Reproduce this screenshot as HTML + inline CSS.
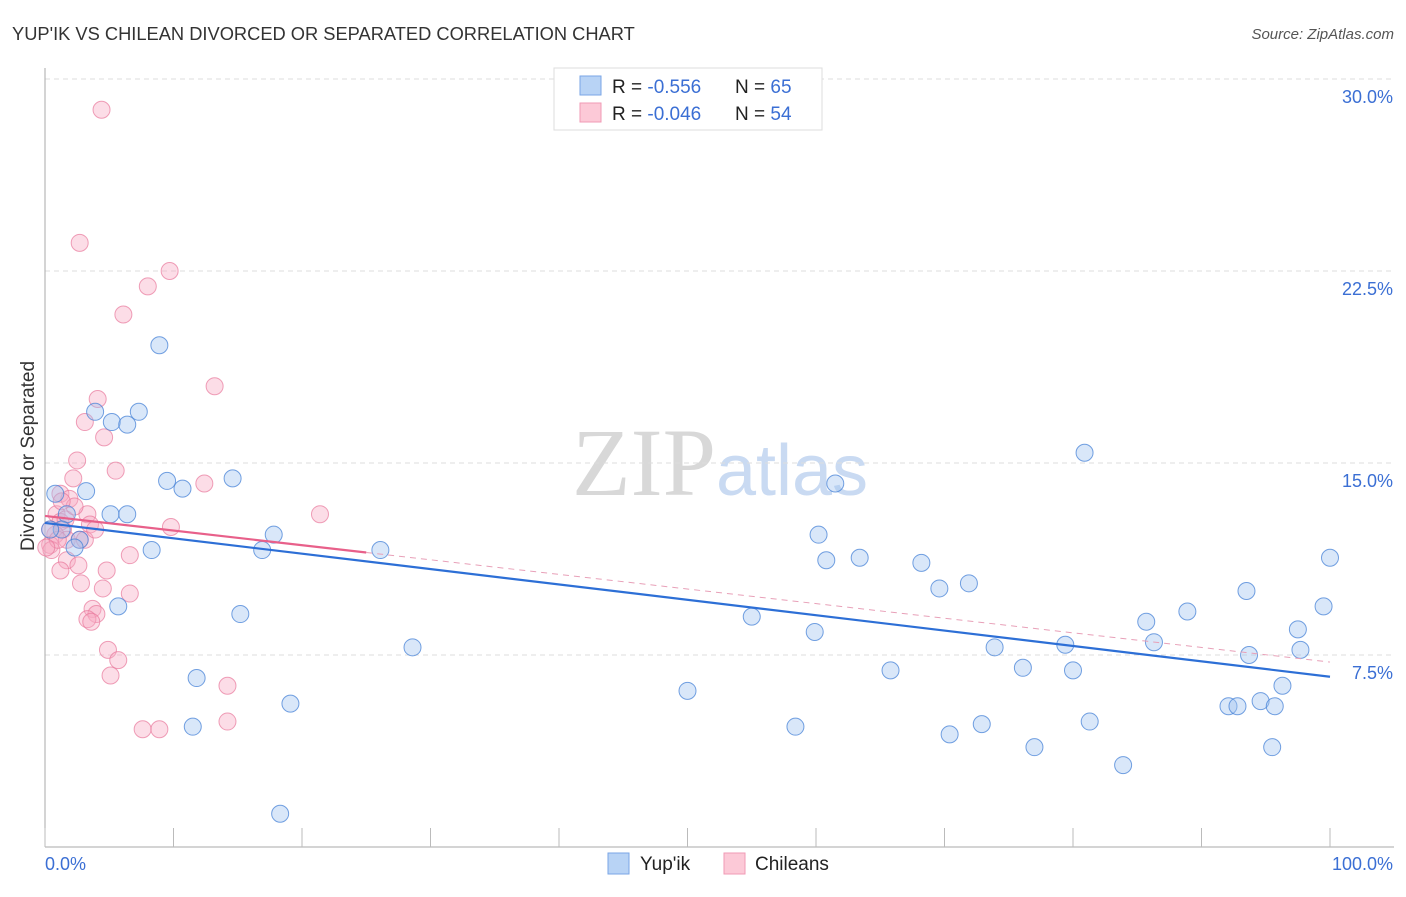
<!DOCTYPE html>
<html><head><meta charset="utf-8"><style>
body{margin:0;background:#fff;font-family:"Liberation Sans",sans-serif;}
svg text{font-family:"Liberation Sans",sans-serif;}
</style></head><body>
<svg id="chart" width="1406" height="892" viewBox="0 0 1406 892">
<text x="12" y="40" font-size="18.3" fill="#333">YUP'IK VS CHILEAN DIVORCED OR SEPARATED CORRELATION CHART</text>
<text x="1394" y="39" font-size="15" fill="#555" font-style="italic" text-anchor="end">Source: ZipAtlas.com</text>
<text x="34" y="456" font-size="19" fill="#333" text-anchor="middle" transform="rotate(-90 34 456)">Divorced or Separated</text>
<text x="720" y="495" font-size="96" fill="#ddd" text-anchor="middle" font-family="Liberation Serif"><tspan fill="#d8d8d8" font-family="Liberation Serif">ZIP</tspan><tspan fill="#c9daf2" font-size="72" font-family="Liberation Sans">atlas</tspan></text>
<g id="grid"></g><g id="axes"></g><g id="pts"></g><g id="lines"></g>
<g>
<rect x="554" y="68" width="268" height="62" fill="#fff" stroke="#ddd"/>
<rect x="580" y="76" width="21" height="19" fill="#b8d3f5" stroke="#7aa6e6"/>
<rect x="580" y="103" width="21" height="19" fill="#fcc9d7" stroke="#f09ab4"/>
<text x="612" y="93" font-size="19" fill="#222">R = <tspan fill="#3b6fd4">-0.556</tspan><tspan x="735">N = </tspan><tspan fill="#3b6fd4">65</tspan></text>
<text x="612" y="120" font-size="19" fill="#222">R = <tspan fill="#3b6fd4">-0.046</tspan><tspan x="735">N = </tspan><tspan fill="#3b6fd4">54</tspan></text>
</g>
<g>
<rect x="608" y="853" width="21" height="21" fill="#b8d3f5" stroke="#7aa6e6"/>
<text x="640" y="870" font-size="19" fill="#222">Yup'ik</text>
<rect x="724" y="853" width="21" height="21" fill="#fcc9d7" stroke="#f09ab4"/>
<text x="755" y="870" font-size="19" fill="#222">Chileans</text>
</g>
</svg>
<script>
const yTicks=[7.5,15,22.5,30];
const yTickLabels=["7.5%","15.0%","22.5%","30.0%"];
const xTicks=[0,10,20,30,40,50,60,70,80,90,100];
const yupikX=[0.8,1.7,3.2,3.9,5.2,6.4,7.3,5.1,6.4,2.7,2.3,8.3,8.9,9.5,10.7,14.6,17.8,16.9,5.7,15.2,11.8,11.5,19.1,18.3,26.1,28.6,50.0,55.0,58.4,59.9,60.2,60.8,63.4,65.8,68.2,69.6,70.4,71.9,72.9,73.9,76.1,77.0,79.4,80.0,80.9,81.3,83.9,85.7,86.3,88.9,92.1,92.8,93.5,93.7,94.6,95.5,95.7,96.3,97.5,97.7,99.5,100.0,61.5,1.3,0.4];
const yupikY=[13.8,13.0,13.9,17.0,16.6,16.5,17.0,13.0,13.0,12.0,11.7,11.6,19.6,14.3,14.0,14.4,12.2,11.6,9.4,9.1,6.6,4.7,5.6,1.3,11.6,7.8,6.1,9.0,4.7,8.4,12.2,11.2,11.3,6.9,11.1,10.1,4.4,10.3,4.8,7.8,7.0,3.9,7.9,6.9,15.4,4.9,3.2,8.8,8.0,9.2,5.5,5.5,10.0,7.5,5.7,3.9,5.5,6.3,8.5,7.7,9.4,11.3,14.2,12.4,12.4];
const chileX=[4.4,2.7,9.7,8.0,6.1,13.2,4.1,3.1,4.6,2.5,5.5,2.2,12.4,1.2,1.9,21.4,0.9,3.3,9.8,1.2,1.4,3.5,0.8,1.7,2.7,0.4,0.5,6.6,1.7,2.6,1.2,4.8,2.8,4.5,6.6,3.7,4.0,3.3,3.6,4.9,5.7,5.1,14.2,7.6,8.9,14.2,0.4,1.0,0.1,1.6,2.3,1.3,3.1,3.9];
const chileY=[28.8,23.6,22.5,21.9,20.8,18.0,17.5,16.6,16.0,15.1,14.7,14.4,14.2,13.8,13.6,13.0,13.0,13.0,12.5,12.7,12.4,12.6,12.2,12.0,12.0,11.8,11.6,11.4,11.2,11.0,10.8,10.8,10.3,10.1,9.9,9.3,9.1,8.9,8.8,7.7,7.3,6.7,6.3,4.6,4.6,4.9,12.4,12.0,11.7,12.8,13.3,13.5,12.0,12.4];
const X0=45,X1=1330,Y0=847,PPU=25.6;
const xs=v=>X0+(X1-X0)*v/100, ys=v=>Y0-v*PPU;
const NS="http://www.w3.org/2000/svg";
function mk(tag,attrs,parent){const e=document.createElementNS(NS,tag);for(const k in attrs)e.setAttribute(k,attrs[k]);parent.appendChild(e);return e;}
const grid=document.getElementById('grid'),axes=document.getElementById('axes'),pts=document.getElementById('pts'),lines=document.getElementById('lines');
yTicks.forEach((t,i)=>{
 const l=mk('line',{x1:X0,x2:1394,y1:ys(t),y2:ys(t),stroke:'#ddd','stroke-dasharray':'5,4'},grid);
 
 
 const tx=mk('text',{x:1393,y:ys(t)+24,'font-size':18,fill:'#3b6fd4','text-anchor':'end'},axes);
 tx.textContent=yTickLabels[i];
 
 
});
mk('line',{x1:X0,x2:X0,y1:68,y2:Y0,stroke:'#aaa'},axes);
const xa=mk('line',{x1:X0,x2:1394,y1:Y0,y2:Y0,stroke:'#aaa'},axes);


xTicks.forEach(t=>{
 const l=mk('line',{x1:xs(t),x2:xs(t),y1:828,y2:Y0,stroke:'#bbb'},axes);
 
 
});
const xl0=mk('text',{x:45,y:870,'font-size':18,fill:'#3b6fd4'},axes);xl0.textContent='0.0%';


const xl1=mk('text',{x:1393,y:870,'font-size':18,fill:'#3b6fd4','text-anchor':'end'},axes);xl1.textContent='100.0%';


chileX.forEach((x,i)=>{
 const c=mk('circle',{cx:xs(x),cy:ys(chileY[i]),r:8.5,fill:'rgba(248,170,195,0.4)',stroke:'rgba(232,120,155,0.7)','stroke-width':1},pts);
 
 
});
yupikX.forEach((x,i)=>{
 const c=mk('circle',{cx:xs(x),cy:ys(yupikY[i]),r:8.5,fill:'rgba(160,195,240,0.4)',stroke:'rgba(70,130,215,0.75)','stroke-width':1},pts);
 
 
});
function fit(X,Y){const n=X.length;let mx=0,my=0;X.forEach((v,i)=>{mx+=v;my+=Y[i]});mx/=n;my/=n;let sxy=0,sxx=0;X.forEach((v,i)=>{sxy+=(v-mx)*(Y[i]-my);sxx+=(v-mx)**2});const b=sxy/sxx;return [my-b*mx,b];}
const [ba,bb]=fit(yupikX,yupikY);
const bl=mk('line',{x1:xs(0),y1:ys(ba),x2:xs(100),y2:ys(ba+bb*100),stroke:'#2d6fd6','stroke-width':2.2},lines);


const [ca,cb]=fit(chileX,chileY);
const pl=mk('line',{x1:xs(0),y1:ys(ca),x2:xs(25),y2:ys(ca+cb*25),stroke:'#e8608a','stroke-width':2.2},lines);


const pd=mk('line',{x1:xs(25),y1:ys(ca+cb*25),x2:xs(100),y2:ys(ca+cb*100),stroke:'#e8a0b8','stroke-width':1,'stroke-dasharray':'6,5'},lines);


</script>
</body></html>
